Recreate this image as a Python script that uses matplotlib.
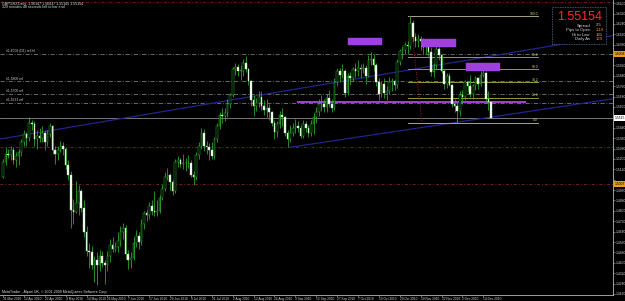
import matplotlib
matplotlib.use("Agg")
import matplotlib.pyplot as plt
from matplotlib.patches import Rectangle
import matplotlib.transforms as mtransforms
import numpy as np
import pandas as pd

plt.rcParams['font.family'] = ['Liberation Sans', 'DejaVu Sans']

# ---------------- texts ----------------
symbol_text = "GBPUSD,Daily  1.56347 1.56437 1.55145 1.55154"
timer_text = "329 minutes 48 seconds left to bar end"
copyright_text = "MetaTrader - Alpari UK, \u00a9 2001-2009 MetaQuotes Software Corp."

# ---------------- daily bars (31 Mar 2010 .. 17 Dec 2010) ----------------
first_open = 1.5060
closes = [
    1.5180,
    1.5240, 1.5230, 1.5270, 1.5190, 1.5220, 1.5250, 1.5330, 1.5390, 1.5360, 1.5480, 1.5470,
    1.5350, 1.5380, 1.5360, 1.5400, 1.5330, 1.5390, 1.5450, 1.5270, 1.5240, 1.5270, 1.5300,
    1.5280, 1.5150, 1.5080, 1.4810, 1.4790, 1.4860, 1.4950, 1.4820, 1.4640, 1.4490, 1.4480,
    1.4380, 1.4420, 1.4380, 1.4450, 1.4400, 1.4380, 1.4450, 1.4540, 1.4510, 1.4520,
    1.4570, 1.4640, 1.4670, 1.4470, 1.4420, 1.4440, 1.4550, 1.4610, 1.4560, 1.4700, 1.4780,
    1.4770, 1.4840, 1.4800, 1.4790, 1.4800, 1.4900, 1.4970, 1.5060, 1.5080, 1.5020, 1.4950,
    1.5180, 1.5190, 1.5160, 1.5170, 1.5170, 1.5170, 1.5080, 1.5060, 1.5230, 1.5300, 1.5400,
    1.5300, 1.5290, 1.5270, 1.5220, 1.5350, 1.5450, 1.5540, 1.5530, 1.5550, 1.5620, 1.5690,
    1.5890, 1.5910, 1.5880, 1.5880, 1.5940, 1.5890, 1.5800, 1.5650, 1.5610, 1.5630, 1.5680,
    1.5610, 1.5580, 1.5590, 1.5560, 1.5480, 1.5410, 1.5470, 1.5540, 1.5520, 1.5400, 1.5350,
    1.5400, 1.5440, 1.5450, 1.5440, 1.5380, 1.5470, 1.5440, 1.5400, 1.5470, 1.5520, 1.5560,
    1.5620, 1.5620, 1.5600, 1.5670, 1.5620, 1.5590, 1.5790, 1.5880, 1.5850, 1.5880, 1.5710,
    1.5840, 1.5820, 1.5890, 1.5880, 1.5900, 1.5890, 1.5900, 1.5840, 1.5960, 1.5970, 1.5920,
    1.5790, 1.5700, 1.5780, 1.5710, 1.5720, 1.5790, 1.5800, 1.5770, 1.5950, 1.6030,
    1.6040, 1.6080, 1.6070, 1.6250, 1.6140, 1.6110, 1.6120, 1.6110, 1.6060, 1.6090, 1.6020,
    1.5870, 1.5920, 1.6050, 1.6000, 1.5880, 1.5780, 1.5840, 1.5770, 1.5620, 1.5610, 1.5570,
    1.5690, 1.5680, 1.5790, 1.5760, 1.5700, 1.5760, 1.5820, 1.5780, 1.5850, 1.5860, 1.5660,
    1.5635, 1.55154,
]
highs = [
    1.5200,
    1.5290, 1.5280, 1.5300, 1.5290, 1.5250, 1.5280, 1.5350, 1.5420, 1.5410, 1.5520, 1.5500,
    1.5490, 1.5420, 1.5440, 1.5450, 1.5420, 1.5420, 1.5480, 1.5460, 1.5300, 1.5300, 1.5340,
    1.5330, 1.5290, 1.5190, 1.5110, 1.4890, 1.5030, 1.5000, 1.4970, 1.4880, 1.4680, 1.4550,
    1.4530, 1.4450, 1.4480, 1.4500, 1.4490, 1.4420, 1.4490, 1.4580, 1.4600, 1.4560,
    1.4640, 1.4680, 1.4710, 1.4690, 1.4500, 1.4480, 1.4600, 1.4650, 1.4640, 1.4740, 1.4800,
    1.4810, 1.4870, 1.4880, 1.4950, 1.4880, 1.4920, 1.5010, 1.5100, 1.5130, 1.5090, 1.5040,
    1.5200, 1.5220, 1.5210, 1.5240, 1.5210, 1.5230, 1.5190, 1.5110, 1.5250, 1.5330, 1.5440,
    1.5430, 1.5340, 1.5320, 1.5330, 1.5370, 1.5480, 1.5560, 1.5590, 1.5590, 1.5660, 1.5710,
    1.5910, 1.5940, 1.5930, 1.5920, 1.5970, 1.5990, 1.5900, 1.5810, 1.5690, 1.5670, 1.5720,
    1.5720, 1.5650, 1.5660, 1.5620, 1.5570, 1.5500, 1.5490, 1.5570, 1.5590, 1.5530, 1.5420,
    1.5460, 1.5480, 1.5510, 1.5490, 1.5460, 1.5500, 1.5490, 1.5460, 1.5500, 1.5550, 1.5600,
    1.5660, 1.5690, 1.5660, 1.5700, 1.5730, 1.5660, 1.5820, 1.5900, 1.5900, 1.5930, 1.5890,
    1.5860, 1.5870, 1.5910, 1.5940, 1.5960, 1.5930, 1.5940, 1.5920, 1.6000, 1.6020, 1.6010,
    1.5940, 1.5820, 1.5800, 1.5820, 1.5760, 1.5830, 1.5820, 1.5810, 1.5970, 1.6050,
    1.6070, 1.6100, 1.6110, 1.6298, 1.6270, 1.6170, 1.6160, 1.6150, 1.6130, 1.6120, 1.6110,
    1.6060, 1.5940, 1.6070, 1.6060, 1.6010, 1.5890, 1.5860, 1.5860, 1.5780, 1.5660, 1.5640,
    1.5720, 1.5730, 1.5810, 1.5800, 1.5850, 1.5780, 1.5840, 1.5830, 1.5880, 1.5910, 1.5880,
    1.5720, 1.56437,
]
lows = [
    1.5050,
    1.5150, 1.5210, 1.5190, 1.5160, 1.5140, 1.5150, 1.5220, 1.5300, 1.5300, 1.5340, 1.5420,
    1.5300, 1.5280, 1.5330, 1.5330, 1.5270, 1.5300, 1.5370, 1.5240, 1.5160, 1.5190, 1.5250,
    1.5230, 1.5120, 1.5040, 1.4670, 1.4700, 1.4780, 1.4770, 1.4790, 1.4600, 1.4450, 1.4360,
    1.4350, 1.4250, 1.4229, 1.4340, 1.4370, 1.4240, 1.4340, 1.4410, 1.4480, 1.4480,
    1.4480, 1.4530, 1.4580, 1.4430, 1.4350, 1.4360, 1.4420, 1.4520, 1.4510, 1.4540, 1.4660,
    1.4720, 1.4740, 1.4770, 1.4760, 1.4760, 1.4780, 1.4880, 1.4950, 1.5040, 1.4960, 1.4920,
    1.4940, 1.5140, 1.5140, 1.5120, 1.5110, 1.5130, 1.5060, 1.5000, 1.5040, 1.5200, 1.5280,
    1.5260, 1.5240, 1.5190, 1.5200, 1.5200, 1.5330, 1.5430, 1.5480, 1.5490, 1.5520, 1.5590,
    1.5680, 1.5850, 1.5840, 1.5810, 1.5840, 1.5870, 1.5770, 1.5610, 1.5530, 1.5570, 1.5600,
    1.5580, 1.5540, 1.5520, 1.5500, 1.5450, 1.5350, 1.5370, 1.5440, 1.5450, 1.5380, 1.5290,
    1.5330, 1.5380, 1.5400, 1.5410, 1.5360, 1.5360, 1.5410, 1.5370, 1.5380, 1.5390, 1.5480,
    1.5530, 1.5570, 1.5560, 1.5560, 1.5600, 1.5560, 1.5580, 1.5760, 1.5790, 1.5820, 1.5680,
    1.5690, 1.5770, 1.5800, 1.5830, 1.5840, 1.5820, 1.5860, 1.5780, 1.5830, 1.5920, 1.5880,
    1.5760, 1.5650, 1.5680, 1.5670, 1.5650, 1.5700, 1.5720, 1.5730, 1.5750, 1.5920,
    1.5970, 1.6010, 1.6010, 1.6050, 1.6100, 1.6060, 1.6060, 1.6040, 1.6010, 1.6010, 1.5990,
    1.5840, 1.5830, 1.5890, 1.5960, 1.5860, 1.5740, 1.5750, 1.5760, 1.5600, 1.5560, 1.5480,
    1.5530, 1.5620, 1.5650, 1.5720, 1.5680, 1.5660, 1.5730, 1.5740, 1.5760, 1.5830, 1.5640,
    1.5580, 1.55145,
]
dates = pd.bdate_range("2010-03-31", "2010-12-17")

# time-axis labels
x_tick_labels = ["31 Mar 2010", "12 Apr 2010", "22 Apr 2010", "4 May 2010", "14 May 2010",
                 "26 May 2010", "7 Jun 2010", "17 Jun 2010", "29 Jun 2010", "9 Jul 2010",
                 "21 Jul 2010", "2 Aug 2010", "12 Aug 2010", "24 Aug 2010", "3 Sep 2010",
                 "15 Sep 2010", "27 Sep 2010", "7 Oct 2010", "19 Oct 2010", "29 Oct 2010",
                 "10 Nov 2010", "22 Nov 2010", "2 Dec 2010", "14 Dec 2010"]
price_ticks = [1.6400, 1.6320, 1.6240, 1.6160, 1.6080, 1.6000, 1.5920, 1.5840, 1.5760,
               1.5680, 1.5600, 1.5520, 1.5440, 1.5360, 1.5280, 1.5200, 1.5120, 1.5040,
               1.4960, 1.4880, 1.4800, 1.4720, 1.4640, 1.4560, 1.4480, 1.4400, 1.4320,
               1.4240, 1.4160]

# objects on chart
bid_price = 1.55154
ref_levels = [1.6008, 1.5800, 1.5700, 1.5631]
ref_labels = ["#1.6008 (D1) ref lvl", "#1.5800 ref", "#1.5700 ref", "#1.5631 ref"]
red_levels = [1.6408, 1.5292, 1.5007]
tagged_levels = [1.6008, 1.5007]
magenta_level = 1.5638
magenta_span = [113, 200]
zone_x0 = [132.2, 160.5, 177.4]
zone_x1 = [145.2, 173.6, 190.4]
zone_top = [1.6131, 1.6123, 1.5939]
zone_bottom = [1.6077, 1.6062, 1.5877]
fib_high, fib_low = 1.6298, 1.5480
fib_ratios = [1.0, 0.618, 0.5, 0.382, 0.236, 0.0]
fib_names = ["100.0", "61.8", "50.0", "38.2", "23.6", "0.0"]
fib_span = [155.2, 205.0]
fib_diag_x = [156.0, 160.5]
trend1_pts = [(-1.15, 1.5353), (198.0, 1.6029)]
trend2_pts = [(110.0, 1.5290), (173.0, 1.5480)]

info_price = "1.55154"
info_rows = ["Spread", "Pips to Open", "Hi to Low", "Daily Av"]
info_vals = ["2.5", "-119", "131", "129"]
info_colors = ["#E8D020", "#FF8C1A", "#E8D020", "#FF8C1A"]

# ---------------- figure ----------------
W, H = 625, 301
fig = plt.figure(figsize=(W / 100, H / 100), dpi=100, facecolor="black")
ax = fig.add_axes([0, 6 / H, 613 / W, 295 / H], facecolor="black")
ax.set_xlim(-1.15, 233.7)
ax.set_ylim(1.4152, 1.6424)

def fx(px):
    return px / W

def fy(py):
    return 1 - py / H

n = len(closes)
x = np.arange(n)
o = np.array([first_open] + closes[:-1])
c = np.array(closes)
h = np.array(highs)
l = np.array(lows)

# background horizontal lines
for lv in ref_levels:
    ax.axhline(lv, color="#6E806E", lw=0.6, dashes=(5, 2, 1, 2), zorder=1)
for lv, lab in zip(ref_levels, ref_labels):
    ax.text(1.0, lv + 0.0004, lab, fontsize=2.4, color="#D0D0D0", ha="left",
            va="bottom", zorder=6)
for lv in red_levels:
    ax.axhline(lv, color="#7A1A1A", lw=0.7, dashes=(3, 2, 1, 2), zorder=1)
ax.axhline(bid_price, color="#8A8A8A", lw=0.6, zorder=1)

# trend lines
xr = ax.get_xlim()[1]
for (x1, y1), (x2, y2) in [trend1_pts, trend2_pts]:
    slope = (y2 - y1) / (x2 - x1)
    ax.plot([x1, xr], [y1, y1 + slope * (xr - x1)], color="#22248C", lw=0.9, zorder=2)

# magenta level
ax.plot(magenta_span, [magenta_level, magenta_level], color="#A040D8", lw=1.4, zorder=2)

# fibonacci
for r, name in zip(fib_ratios, fib_names):
    lv = fib_low + r * (fib_high - fib_low)
    col = "#A8A488" if r in (0.0, 1.0) else "#9A9A3A"
    ax.plot(fib_span, [lv, lv], color=col, lw=0.7, zorder=2)
    ax.text(fib_span[1], lv + 0.0003, name, fontsize=2.4, color="#D8D070",
            ha="right", va="bottom", zorder=6)
ax.plot(fib_diag_x, [fib_high, fib_low], color="#A02020", lw=0.7, ls=(0, (1, 1.5)), zorder=2)

# candles
wick_col = "#2FAF2F"
ax.vlines(x, l, h, color=wick_col, lw=0.55, zorder=3)
bull = c >= o
body_bottom = np.minimum(o, c)
body_h = np.maximum(np.abs(c - o), 0.00015)
ax.bar(x[bull], body_h[bull], bottom=body_bottom[bull], width=0.62, color="black",
       edgecolor=wick_col, linewidth=0.35, zorder=4)
ax.bar(x[~bull], body_h[~bull], bottom=body_bottom[~bull], width=0.62, color="white",
       edgecolor="#9FE09F", linewidth=0.3, zorder=4)

# zones
for a0, a1, t, b in zip(zone_x0, zone_x1, zone_top, zone_bottom):
    ax.add_patch(Rectangle((a0, b), a1 - a0, t - b, facecolor="#A040E0",
                           edgecolor="#A040E0", lw=0.3, zorder=5))

# axes styling
for s in ["top", "left"]:
    ax.spines[s].set_visible(False)
for s in ["right", "bottom"]:
    ax.spines[s].set_color("#B8B8B8")
    ax.spines[s].set_linewidth(0.6)

# price axis: labels hidden under the price tags are left blank (as in the terminal)
covered = [bid_price] + tagged_levels
ax.yaxis.tick_right()
ax.set_yticks(price_ticks)
ax.set_yticklabels(["" if min(abs(p - q) for q in covered) < 0.0045 else f"{p:.4f}"
                    for p in price_ticks])
ax.tick_params(axis="y", colors="#B8B8B8", labelsize=2.4, length=1.5, width=0.4, pad=0.5,
               labelcolor="#D0D0D0")
tick_dates = pd.to_datetime(x_tick_labels, format="%d %b %Y")
tick_pos = [dates.get_loc(d) for d in tick_dates]
ax.set_xticks(tick_pos)
ax.set_xticklabels(x_tick_labels)
for t in ax.get_xticklabels():
    t.set_ha("left")
ax.tick_params(axis="x", colors="#B8B8B8", labelsize=2.3, length=1.2, width=0.4, pad=0.2,
               labelcolor="#D0D0D0")

# price tags on the axis
tr = mtransforms.blended_transform_factory(ax.transAxes, ax.transData)
ax.text(1.003, bid_price, f"{bid_price:.4f}", transform=tr, fontsize=2.4, color="black",
        ha="left", va="center", zorder=10, clip_on=False,
        bbox=dict(boxstyle="square,pad=0.25", fc="white", ec="none"))
for lv in tagged_levels:
    ax.text(1.003, lv, f"{lv:.4f}", transform=tr, fontsize=2.4, color="black",
            ha="left", va="center", zorder=10, clip_on=False,
            bbox=dict(boxstyle="square,pad=0.25", fc="#E89A1A", ec="none"))

# header texts
fig.text(fx(2), fy(3.5), symbol_text, fontsize=2.6, color="#E0E0E0", ha="left", va="center")
fig.text(fx(2), fy(7.2), timer_text, fontsize=2.6, color="#E0E0E0", ha="left", va="center")
fig.text(fx(2), fy(292.0), copyright_text, fontsize=2.6, color="#E0E0E0", ha="left",
         va="center")

# info box
fig.add_artist(Rectangle((fx(552), fy(44)), (606 - 552) / W, (44 - 7) / H,
                         transform=fig.transFigure, facecolor="black",
                         edgecolor="#5A6E9A", lw=0.6, ls=(0, (1, 1)), zorder=8))
fig.text(fx(579.5), fy(17.0), info_price, fontsize=9.0, color="#FF2A2A", ha="center",
         va="center", zorder=9)
for k, (lab, val, col) in enumerate(zip(info_rows, info_vals, info_colors)):
    yy = fy(25.5 + 4.6 * k)
    fig.text(fx(590), yy, lab, fontsize=3.1, color="#D8D8D8", ha="right", va="center", zorder=9)
    fig.text(fx(596), yy, val, fontsize=3.1, color=col, ha="left", va="center", zorder=9)

fig.savefig("out.png", dpi=100, facecolor="black")
